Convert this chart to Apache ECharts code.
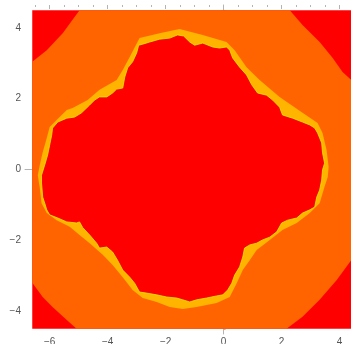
<!DOCTYPE html>
<html>
<head>
<meta charset="utf-8">
<script src="https://cdn.jsdelivr.net/npm/echarts@6/dist/echarts.min.js"></script>
<style>
  html, body { margin: 0; padding: 0; background: #fff; }
  #chart { width: 351px; height: 344px; }
</style>
</head>
<body>
<div id="chart"></div>
<script>
// Extent of the rendered escape-time image (data units)
const imageX = [-6.6, 4.4];
const imageY = [-4.5, 4.5];

// Axis ranges (image plus frame padding) and tick values
const axisX = [-6.85, 4.65];
const axisY = [-4.645, 4.645];
const majorTicksX = [-6, -4, -2, 0, 2, 4];
const majorTicksY = [-4, -2, 0, 2, 4];
const minorTicksX = [-6.5, -6, -5.5, -5, -4.5, -4, -3.5, -3, -2.5, -2, -1.5, -1, -0.5, 0, 0.5, 1, 1.5, 2, 2.5, 3, 3.5, 4, 4.5];
const minorTicksY = [-4.5, -4, -3.5, -3, -2.5, -2, -1.5, -1, -0.5, 0, 0.5, 1, 1.5, 2, 2.5, 3, 3.5, 4, 4.5];

// Region escaping after one step (orange disk, clipped to the image)
const diskBoundary = [
  [-4.97, 4.5], [2.28, 4.5], [2.72, 4.08], [3.31, 3.60], [3.76, 3.15], [4.10, 2.75],
  [4.4, 2.53], [4.4, -2.56], [3.90, -3.12], [3.31, -3.68], [2.72, -4.16], [2.17, -4.5],
  [-5.07, -4.5], [-5.41, -4.25], [-5.90, -3.88], [-6.24, -3.60], [-6.6, -3.20],
  [-6.6, 3.04], [-6.10, 3.37], [-5.55, 3.85]
];

// Outer edge of the slower-escaping band (gold)
const bandBoundary = [
  [-6.41, -0.16], [-6.34, 0.13], [-6.24, 0.49], [-6.10, 0.89], [-6.00, 1.20], [-5.76, 1.40],
  [-5.41, 1.68], [-5.21, 1.74], [-4.69, 1.96], [-4.28, 2.25], [-3.69, 2.53], [-3.48, 2.81],
  [-3.24, 3.18], [-2.90, 3.71], [-2.21, 3.85], [-1.52, 3.97], [-0.72, 3.80], [0.10, 3.60],
  [0.38, 3.37], [0.79, 2.89], [1.24, 2.53], [1.93, 2.05], [2.72, 1.60], [3.24, 1.31],
  [3.41, 1.03], [3.55, 0.55], [3.62, 0.07], [3.59, -0.21], [3.48, -0.49], [3.31, -0.95],
  [2.97, -1.23], [2.52, -1.51], [2.03, -1.71], [1.59, -1.99], [1.14, -2.27], [0.90, -2.56],
  [0.66, -2.84], [0.45, -3.21], [0.21, -3.60], [-0.24, -3.77], [-0.93, -3.88], [-1.41, -3.94],
  [-1.86, -3.88], [-2.31, -3.74], [-2.79, -3.63], [-3.14, -3.40], [-3.48, -3.04], [-3.83, -2.70],
  [-4.17, -2.41], [-4.62, -2.08], [-4.97, -1.85], [-5.31, -1.62], [-5.76, -1.43], [-6.10, -1.23],
  [-6.28, -0.95], [-6.34, -0.52]
];

// Boundary of the non-escaping set (inner red blob)
const setBoundary = [
  [-6.28, -0.16], [-6.17, 0.13], [-6.07, 0.41], [-6.00, 0.69], [-5.93, 0.97], [-5.90, 1.17],
  [-5.72, 1.34], [-5.41, 1.45], [-5.14, 1.48], [-4.90, 1.60], [-4.62, 1.82], [-4.45, 1.96],
  [-4.28, 2.05], [-4.03, 2.05], [-3.83, 2.16], [-3.69, 2.27], [-3.48, 2.30], [-3.41, 2.61],
  [-3.31, 2.87], [-3.14, 3.04], [-3.00, 3.29], [-2.93, 3.51], [-2.79, 3.54], [-2.55, 3.60],
  [-2.21, 3.68], [-1.86, 3.71], [-1.59, 3.80], [-1.38, 3.77], [-1.17, 3.60], [-1.00, 3.51],
  [-0.72, 3.57], [-0.38, 3.46], [-0.14, 3.43], [0.10, 3.46], [0.21, 3.37], [0.31, 3.15],
  [0.55, 2.89], [0.79, 2.67], [0.97, 2.39], [1.17, 2.16], [1.48, 2.10], [1.69, 1.96],
  [1.93, 1.76], [2.03, 1.54], [2.38, 1.45], [2.72, 1.34], [2.97, 1.26], [3.14, 1.17],
  [3.24, 1.03], [3.38, 0.75], [3.41, 0.47], [3.48, 0.18], [3.41, -0.01], [3.38, -0.30],
  [3.31, -0.58], [3.21, -0.78], [3.14, -1.06], [2.97, -1.14], [2.72, -1.23], [2.52, -1.37],
  [2.21, -1.43], [2.00, -1.51], [1.83, -1.76], [1.59, -1.91], [1.34, -1.99], [1.14, -2.08],
  [0.90, -2.13], [0.72, -2.22], [0.66, -2.47], [0.55, -2.75], [0.38, -2.98], [0.28, -3.21],
  [0.14, -3.40], [-0.03, -3.54], [-0.24, -3.57], [-0.59, -3.63], [-0.93, -3.68], [-1.17, -3.74],
  [-1.41, -3.68], [-1.62, -3.63], [-1.97, -3.60], [-2.31, -3.54], [-2.66, -3.49], [-2.90, -3.46],
  [-3.07, -3.21], [-3.24, -3.04], [-3.48, -2.84], [-3.66, -2.56], [-3.83, -2.33], [-4.03, -2.19],
  [-4.28, -2.22], [-4.38, -2.08], [-4.62, -1.85], [-4.86, -1.64], [-4.97, -1.48], [-5.07, -1.51],
  [-5.41, -1.48], [-5.72, -1.37], [-6.00, -1.28], [-6.10, -1.14], [-6.17, -0.95], [-6.24, -0.78],
  [-6.28, -0.38]
];

const colors = {
  outside: '#ff0000',
  disk: '#ff6400',
  band: '#ffb400',
  edge: '#e4f000',
  set: '#ff0000',
  frame: '#b4b4b4',
  label: '#555555'
};

function polygonSeries(points, fill, z, stroke) {
  return {
    type: 'custom',
    coordinateSystem: 'cartesian2d',
    silent: true,
    clip: false,
    z: z,
    data: [[0, 0]],
    renderItem: function (params, api) {
      return {
        type: 'polygon',
        shape: { points: points.map(function (p) { return api.coord(p); }) },
        style: stroke
          ? { fill: fill, stroke: stroke, lineWidth: 0.8 }
          : { fill: fill }
      };
    }
  };
}

const backgroundSeries = {
  type: 'custom',
  coordinateSystem: 'cartesian2d',
  silent: true,
  clip: false,
  z: 1,
  data: [[0, 0]],
  renderItem: function (params, api) {
    const a = api.coord([imageX[0], imageY[1]]);
    const b = api.coord([imageX[1], imageY[0]]);
    return {
      type: 'rect',
      shape: { x: a[0], y: a[1], width: b[0] - a[0], height: b[1] - a[1] },
      style: { fill: colors.outside }
    };
  }
};

const minus = function (v) { return String(v).replace('-', '\u2212'); };
const labelFont = { color: colors.label, fontSize: 10, fontFamily: 'Liberation Sans, Arial, sans-serif' };

function xAxisDef(position, ticks, len, withLine, withLabels) {
  return {
    type: 'value', position: position, min: axisX[0], max: axisX[1],
    axisLine: { show: withLine, lineStyle: { color: colors.frame, width: 1 } },
    axisTick: { show: true, inside: true, length: len, customValues: ticks, lineStyle: { color: colors.frame } },
    axisLabel: withLabels
      ? Object.assign({ show: true, customValues: majorTicksX, margin: 3, formatter: minus }, labelFont)
      : { show: false },
    splitLine: { show: false }
  };
}
function yAxisDef(ticks, len, withLine, withLabels) {
  return {
    type: 'value', position: 'left', min: axisY[0], max: axisY[1],
    axisLine: { show: withLine, lineStyle: { color: colors.frame, width: 1 } },
    axisTick: { show: true, inside: true, length: len, customValues: ticks, lineStyle: { color: colors.frame } },
    axisLabel: withLabels
      ? Object.assign({ show: true, customValues: majorTicksY, margin: 4, formatter: minus }, labelFont)
      : { show: false },
    splitLine: { show: false }
  };
}

const chart = echarts.init(document.getElementById('chart'), null, { renderer: 'canvas' });
chart.setOption({
  animation: false,
  backgroundColor: '#ffffff',
  grid: { left: 25, top: 5, width: 333.5, height: 329, containLabel: false, outerBoundsMode: 'none' },
  xAxis: [
    xAxisDef('bottom', majorTicksX, 4, true, true),
    xAxisDef('bottom', minorTicksX, 2, false, false),
    xAxisDef('top', majorTicksX, 4, false, false),
    xAxisDef('top', minorTicksX, 2, false, false)
  ],
  yAxis: [
    yAxisDef(majorTicksY, 4, true, true),
    yAxisDef(minorTicksY, 2, false, false)
  ],
  series: [
    backgroundSeries,
    polygonSeries(diskBoundary, colors.disk, 2),
    polygonSeries(bandBoundary, colors.band, 3),
    polygonSeries(setBoundary, colors.set, 4, colors.edge)
  ]
});
</script>
</body>
</html>
